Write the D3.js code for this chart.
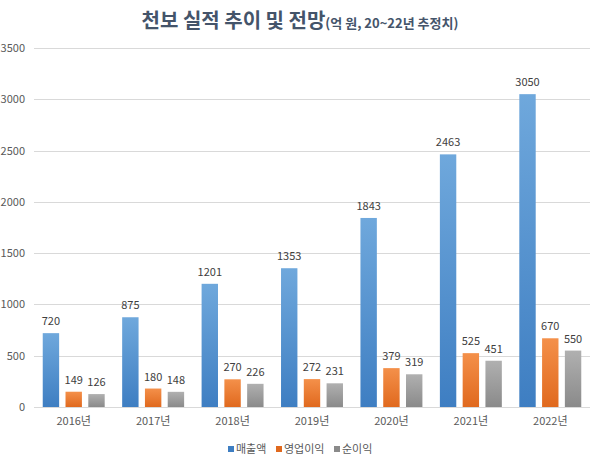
<!DOCTYPE html>
<html><head><meta charset="utf-8">
<script src="https://cdn.jsdelivr.net/npm/d3@7"></script>
<style>body{margin:0;background:#fff}svg{display:block}</style>
</head><body>
<script>
const categories = ["2016년","2017년","2018년","2019년","2020년","2021년","2022년"];
const sales = [720,875,1201,1353,1843,2463,3050];
const opProfit = [149,180,270,272,379,525,670];
const netProfit = [126,148,226,231,319,451,550];
const seriesNames = ["매출액","영업이익","순이익"];
const yTicks = [0,500,1000,1500,2000,2500,3000,3500];

(function(){
const W=600,H=464;
const svg=d3.select("body").append("svg").attr("width",W).attr("height",H);
const font="'Noto Sans CJK KR','Noto Sans',sans-serif";
const colors=[["#6FA8DC","#3E7EC2"],["#F4904A","#E0691E"],["#B0B0B0","#8A8A8A"]];
const defs=svg.append("defs");
colors.forEach((c,i)=>{
  const g=defs.append("linearGradient").attr("id","g"+i).attr("x1",0).attr("y1",0).attr("x2",0).attr("y2",1);
  g.append("stop").attr("offset","0%").attr("stop-color",c[0]);
  g.append("stop").attr("offset","100%").attr("stop-color",c[1]);
});
const mLeft=34,mRight=590,mTop=48,mBottom=407;
const x=d3.scaleBand().domain(categories).range([mLeft,mRight]).paddingInner(0.22).paddingOuter(0.11);
const xs=d3.scaleBand().domain([0,1,2]).range([0,x.bandwidth()]).paddingInner(0.28);
const y=d3.scaleLinear().domain([0,3500]).range([mBottom,mTop]);

svg.append("g").selectAll("line").data(yTicks).join("line")
  .attr("x1",mLeft).attr("x2",mRight).attr("y1",d=>Math.round(y(d))+0.5).attr("y2",d=>Math.round(y(d))+0.5)
  .attr("stroke","#D9D9D9").attr("stroke-width",1);

const yAxis=svg.append("g").attr("transform",`translate(${mLeft},0)`)
  .call(d3.axisLeft(y).tickValues(yTicks).tickFormat(d3.format("d")).tickSize(0).tickPadding(9));
yAxis.select(".domain").remove();
yAxis.selectAll("text").attr("font-family",font).attr("font-size",11).attr("fill","#595959");

const xAxis=svg.append("g").attr("transform",`translate(0,${mBottom})`)
  .call(d3.axisBottom(x).tickSize(0).tickPadding(10));
xAxis.select(".domain").remove();
xAxis.selectAll("text").attr("font-family",font).attr("font-size",11).attr("fill","#595959");

const series=[sales,opProfit,netProfit];
series.forEach((vals,si)=>{
  const g=svg.append("g");
  g.selectAll("rect").data(vals).join("rect")
    .attr("x",(d,i)=>x(categories[i])+xs(si)).attr("width",xs.bandwidth())
    .attr("y",d=>y(d)).attr("height",d=>mBottom-y(d)).attr("fill",`url(#g${si})`);
  g.selectAll("text").data(vals).join("text")
    .attr("x",(d,i)=>x(categories[i])+xs(si)+xs.bandwidth()/2).attr("y",d=>y(d)-8)
    .attr("text-anchor","middle").attr("font-family",font).attr("font-size",11).attr("fill","#404040").text(d=>d);
});

const t=svg.append("text").attr("x",300).attr("y",28).attr("text-anchor","middle").attr("font-family",font).attr("font-weight","bold").attr("fill","#44546A");
t.append("tspan").attr("font-size",20).text("천보 실적 추이 및 전망");
t.append("tspan").attr("font-size",13).text("(억 원, 20~22년 추정치)");

const legX=[228,276,334];
const lg=svg.append("g");
seriesNames.forEach((n,i)=>{
  lg.append("rect").attr("x",legX[i]).attr("y",446).attr("width",6).attr("height",6).attr("fill",colors[i][1]);
  lg.append("text").attr("x",legX[i]+8).attr("y",453).attr("font-family",font).attr("font-size",11).attr("fill","#595959").text(n);
});
})();
</script>
</body></html>
